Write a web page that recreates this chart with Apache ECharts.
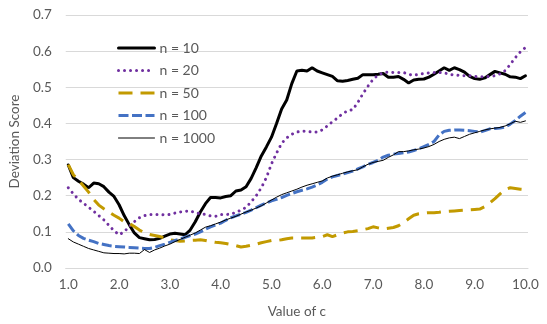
<!DOCTYPE html>
<html>
<head>
<meta charset="utf-8">
<script src="https://cdn.jsdelivr.net/npm/echarts@6/dist/echarts.min.js"></script>
<style>
  html, body { margin: 0; padding: 0; background: #fff; }
  #box { width: 547px; height: 324px; }
</style>
</head>
<body>
<div id="box"></div>
<script>
// c values, one category per 0.1
const cValues = [
  '1.0','1.1','1.2','1.3','1.4','1.5','1.6','1.7','1.8','1.9',
  '2.0','2.1','2.2','2.3','2.4','2.5','2.6','2.7','2.8','2.9',
  '3.0','3.1','3.2','3.3','3.4','3.5','3.6','3.7','3.8','3.9',
  '4.0','4.1','4.2','4.3','4.4','4.5','4.6','4.7','4.8','4.9',
  '5.0','5.1','5.2','5.3','5.4','5.5','5.6','5.7','5.8','5.9',
  '6.0','6.1','6.2','6.3','6.4','6.5','6.6','6.7','6.8','6.9',
  '7.0','7.1','7.2','7.3','7.4','7.5','7.6','7.7','7.8','7.9',
  '8.0','8.1','8.2','8.3','8.4','8.5','8.6','8.7','8.8','8.9',
  '9.0','9.1','9.2','9.3','9.4','9.5','9.6','9.7','9.8','9.9',
  '10.0'
];

const n10 = [
  0.285,0.250,0.240,0.232,0.222,0.235,0.233,0.225,0.210,0.198,
  0.175,0.145,0.120,0.097,0.084,0.081,0.078,0.079,0.082,0.088,
  0.094,0.096,0.094,0.092,0.105,0.128,0.155,0.178,0.195,0.195,
  0.194,0.198,0.200,0.213,0.216,0.225,0.248,0.278,0.310,0.335,
  0.362,0.400,0.440,0.465,0.510,0.545,0.547,0.545,0.554,0.545,
  0.540,0.535,0.530,0.518,0.517,0.519,0.522,0.525,0.535,0.535,
  0.535,0.536,0.538,0.528,0.528,0.530,0.522,0.512,0.520,0.522,
  0.523,0.528,0.536,0.545,0.554,0.547,0.554,0.549,0.542,0.530,
  0.524,0.522,0.526,0.535,0.544,0.540,0.536,0.529,0.528,0.524,
  0.532
];

const n20 = [
  0.222,0.205,0.190,0.179,0.168,0.157,0.145,0.133,0.118,0.103,
  0.092,0.100,0.115,0.128,0.139,0.145,0.148,0.148,0.148,0.147,
  0.148,0.152,0.155,0.157,0.158,0.153,0.150,0.148,0.144,0.143,
  0.148,0.148,0.149,0.154,0.160,0.168,0.183,0.200,0.222,0.250,
  0.288,0.318,0.345,0.360,0.370,0.376,0.379,0.378,0.376,0.376,
  0.382,0.393,0.405,0.415,0.427,0.435,0.438,0.458,0.482,0.503,
  0.522,0.534,0.540,0.542,0.541,0.541,0.541,0.536,0.533,0.536,
  0.538,0.540,0.541,0.541,0.540,0.536,0.534,0.533,0.532,0.532,
  0.530,0.529,0.529,0.530,0.532,0.537,0.546,0.563,0.582,0.598,
  0.610
];

const n50 = [
  0.286,0.258,0.243,0.227,0.210,0.190,0.174,0.164,0.155,0.146,
  0.138,0.128,0.123,0.115,0.105,0.098,0.093,0.090,0.087,0.083,
  0.078,0.076,0.074,0.075,0.076,0.077,0.078,0.076,0.073,0.071,
  0.070,0.068,0.065,0.062,0.058,0.060,0.063,0.066,0.070,0.073,
  0.076,0.076,0.078,0.081,0.083,0.083,0.083,0.083,0.083,0.085,
  0.087,0.092,0.087,0.092,0.097,0.100,0.101,0.103,0.106,0.109,
  0.114,0.111,0.108,0.110,0.112,0.117,0.126,0.136,0.146,0.150,
  0.152,0.153,0.153,0.154,0.156,0.157,0.158,0.159,0.160,0.161,
  0.162,0.163,0.170,0.180,0.192,0.205,0.217,0.222,0.220,0.218,
  0.217
];

const n100 = [
  0.122,0.103,0.090,0.082,0.077,0.073,0.068,0.065,0.062,0.060,
  0.059,0.058,0.057,0.056,0.055,0.054,0.054,0.057,0.062,0.066,
  0.071,0.076,0.080,0.085,0.090,0.094,0.100,0.107,0.114,0.119,
  0.124,0.132,0.139,0.144,0.149,0.154,0.160,0.167,0.174,0.180,
  0.186,0.190,0.195,0.201,0.206,0.211,0.215,0.219,0.224,0.230,
  0.237,0.246,0.252,0.256,0.260,0.264,0.268,0.274,0.280,0.287,
  0.292,0.298,0.307,0.312,0.315,0.317,0.319,0.321,0.325,0.330,
  0.336,0.342,0.350,0.368,0.378,0.381,0.382,0.382,0.381,0.380,
  0.378,0.376,0.380,0.385,0.386,0.387,0.390,0.398,0.408,0.420,
  0.430
];

const n1000 = [
  0.081,0.072,0.066,0.060,0.054,0.050,0.046,0.042,0.041,0.040,
  0.040,0.039,0.041,0.041,0.040,0.051,0.043,0.050,0.055,0.061,
  0.066,0.073,0.079,0.085,0.091,0.097,0.105,0.113,0.117,0.122,
  0.127,0.133,0.138,0.143,0.149,0.155,0.160,0.166,0.172,0.180,
  0.188,0.196,0.203,0.208,0.213,0.218,0.224,0.229,0.233,0.237,
  0.241,0.249,0.254,0.258,0.262,0.266,0.269,0.272,0.280,0.287,
  0.292,0.295,0.298,0.306,0.313,0.322,0.322,0.324,0.327,0.329,
  0.332,0.336,0.342,0.350,0.356,0.360,0.362,0.358,0.364,0.370,
  0.374,0.378,0.382,0.385,0.387,0.389,0.393,0.399,0.406,0.403,
  0.407
];

const yTicks = [0, 0.1, 0.2, 0.3, 0.4, 0.5, 0.6, 0.7];

const font = 'Lato, "Liberation Sans", sans-serif';
const textColor = '#595959';
const gridColor = '#d9d9d9';

const chart = echarts.init(document.getElementById('box'), null, { renderer: 'canvas' });

function line(name, data, color, width, type, cap) {
  return {
    name: name,
    type: 'line',
    data: data,
    symbol: 'none',
    smooth: false,
    animation: false,
    lineStyle: { color: color, width: width, type: type, cap: cap || 'butt' },
    itemStyle: { color: color }
  };
}

const option = {
  animation: false,
  grid: { left: 65, right: 19, top: 15, bottom: 50 },
  legend: {
    orient: 'vertical',
    left: 112,
    top: 36,
    itemWidth: 36,
    itemHeight: 14,
    itemGap: 8.5,
    itemStyle: { opacity: 0 },
    lineStyle: { width: 'inherit' },
    textStyle: { fontFamily: font, fontSize: 14, color: textColor },
    data: ['n = 10', 'n = 20', 'n = 50', 'n = 100', 'n = 1000']
  },
  xAxis: {
    type: 'category',
    data: cValues,
    boundaryGap: true,
    name: 'Value of c',
    nameLocation: 'middle',
    nameGap: 37,
    nameTextStyle: { fontFamily: font, fontSize: 13.5, color: textColor },
    axisLine: { lineStyle: { color: gridColor, width: 1 } },
    axisTick: { interval: 4, length: 5, lineStyle: { color: gridColor } },
    axisLabel: { interval: 9, margin: 10, fontFamily: font, fontSize: 13.5, color: textColor },
    splitLine: { show: false }
  },
  yAxis: {
    type: 'value',
    min: yTicks[0],
    max: yTicks[yTicks.length - 1],
    interval: 0.1,
    name: 'Deviation Score',
    nameLocation: 'middle',
    nameRotate: 90,
    nameGap: 34,
    nameTextStyle: { fontFamily: font, fontSize: 13.5, color: textColor },
    axisLine: { show: false },
    axisTick: { show: false },
    axisLabel: {
      margin: 14,
      fontFamily: font,
      fontSize: 13.5,
      color: textColor,
      formatter: v => v.toFixed(1)
    },
    splitLine: { lineStyle: { color: gridColor, width: 1 } }
  },
  series: [
    line('n = 10', n10, '#000000', 3, 'solid', 'round'),
    line('n = 20', n20, '#7030A0', 3, [0.01, 6], 'round'),
    line('n = 50', n50, '#C29A00', 3, [14, 8], 'butt'),
    line('n = 100', n100, '#4472C4', 3, [10, 3.5], 'butt'),
    line('n = 1000', n1000, '#000000', 1, 'solid', 'round')
  ]
};

chart.setOption(option);
</script>
</body>
</html>
